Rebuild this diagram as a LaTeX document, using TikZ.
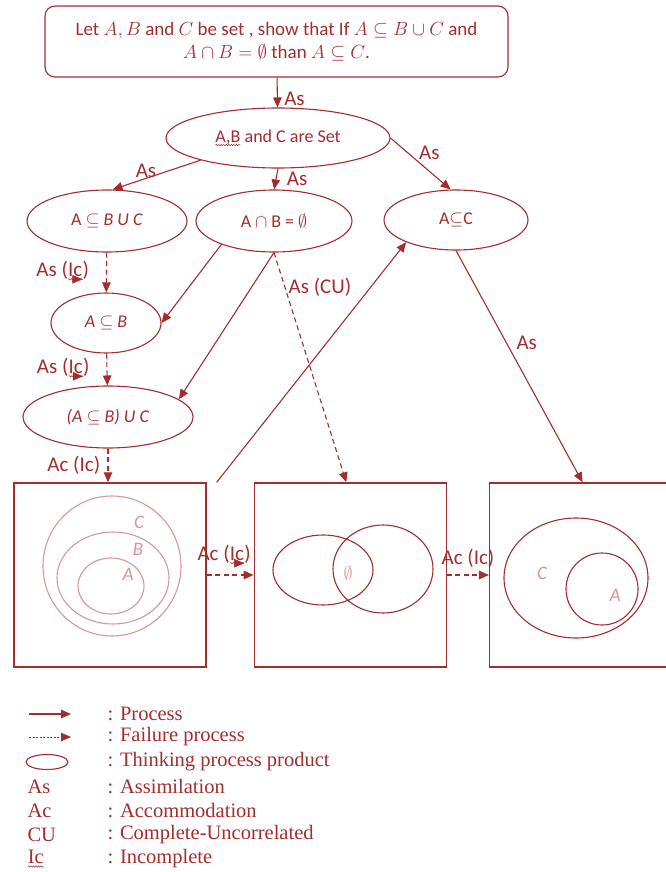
\RequirePackage{fix-cm}
\documentclass[tikz,border=0pt]{standalone}
\usepackage{fontspec}
\usepackage{amssymb}
\setmainfont{Carlito}
\newfontfamily\legendfont{Liberation Serif}
\usetikzlibrary{shapes.geometric, arrows.meta, positioning, calc, decorations.pathmorphing}
\definecolor{deepred}{RGB}{163,45,45}
\definecolor{palered}{RGB}{216,150,150}
\newcommand{\squig}[1]{\tikz[baseline=(sq.base)]{\node[shape=rectangle, draw=none, minimum width=0pt,
    minimum height=0pt, inner sep=0pt, outer sep=0pt] (sq) {#1};
    \draw[line width=0.5pt, decorate, decoration={snake, amplitude=0.7pt, segment length=2.5pt}]
    ([yshift=-2.5pt]sq.base west) -- ([yshift=-2.5pt]sq.base east);}}

\begin{document}
\begin{tikzpicture}[x=1pt, y=-1pt, color=deepred,
    thought/.style={draw, ellipse, line width=1.1pt, inner sep=0pt,
                    font=\fontsize{18}{20}\selectfont},
    proc/.style={draw, line width=1.1pt, -{Triangle[length=10pt, width=8.5pt]}},
    fail/.style={proc, dash pattern=on 5pt off 3.5pt},
    tag/.style={font=\fontsize{21}{23}\selectfont},
    frame/.style={draw, line width=1.3pt, minimum height=184pt, inner sep=0pt},
    setlbl/.style={text=palered, font=\fontsize{19}{20}\selectfont\itshape},
    legend/.style={anchor=west, font=\legendfont\fontsize{20.5}{22}\selectfont}
]
    \useasboundingbox (0,0) rectangle (666,872);

    \node[draw, line width=1.1pt, rounded corners=10pt, minimum width=463pt,
          minimum height=71pt, align=center, font=\fontsize{19}{22.5}\selectfont]
          (quest) at (276.5,41.5)
          {Let $A, B$ and $C$ be set , show that If $A \subseteq B \cup C$ and\\
           $A \cap B = \emptyset$ than $A \subseteq C$.};

    \node[thought, minimum width=224pt, minimum height=60pt] (sets) at (278,138) {\squig{A,B} and C are Set};
    \node[thought, minimum width=160pt, minimum height=62pt] (abuc) at (107,221) {A $\subseteq$ \textit{B U C}};
    \node[thought, minimum width=156pt, minimum height=62pt] (anb) at (274,221) {A $\cap$ B = $\emptyset$};
    \node[thought, minimum width=144pt, minimum height=60pt] (asc) at (456,220) {A$\subseteq$C};
    \node[thought, minimum width=110pt, minimum height=60pt] (asb) at (106,323) {\textit{A} $\subseteq$ \textit{B}};
    \node[thought, minimum width=170pt, minimum height=62pt] (asbuc) at (108,417) {\textit{(A $\subseteq$ B) U C}};

    \node[frame, minimum width=192pt] (venn1) at (110,575) {};
    \node[frame, minimum width=192pt, right=47pt of venn1] (venn2) {};
    \node[frame, minimum width=178pt, right=42pt of venn2] (venn3) {};

    \draw[proc] (quest) -- node[tag, right, pos=0.7, xshift=3pt] {As} (sets);
    \draw[proc] (sets.196) -- node[tag, above, pos=0.62, inner sep=0pt] {As} (abuc.80);
    \draw[proc] (sets.south) -- node[tag, right, xshift=7pt] {As} (anb.north);
    \draw[proc] (sets.east) -- node[tag, above right, pos=0.45, inner sep=1pt] {As} (asc.100);
    \draw[fail] (abuc) -- node[tag, left=14pt] {As (\squig{Ic})} (asb);
    \draw[fail] (asb) -- node[tag, left=14pt] {As (\squig{Ic})} (asbuc);
    \draw[fail] (asbuc.south) -- node[tag, left=4pt] {Ac (Ic)} (asbuc.south |- venn1.north);
    \draw[proc] (anb.204) -- (asb.east);
    \draw[proc] (anb.south) -- (asbuc.14);
    \draw[fail] (anb.south) -- node[tag, right, pos=0.15] {As (CU)} ($(venn2.north)+(-4,0)$);
    \coordinate (rise) at ($(venn1.north east)+(10,0)$);
    \draw[proc] (rise) -- (asc.204);
    \draw[proc] (asc.south) -- node[tag, right, pos=0.4, xshift=6pt] {As} ($(venn3.north)+(4,0)$);
    \draw[fail] (venn1) -- node[tag, above=4pt, xshift=-6pt] {Ac (\squig{Ic})} (venn2);
    \draw[fail] (venn2) -- node[tag, above=4pt] {Ac (Ic)} (venn3);

    \draw[palered, line width=1.1pt] (112,566) ellipse (69 and 70)
        (113,578) ellipse (56 and 46) (111,586) ellipse (33 and 28);
    \node[setlbl] (c1) at (139,522) {C};
    \node[setlbl] (b1) at (138,549) {B};
    \node[setlbl] (a1) at (128,574) {A};

    \draw[line width=1.1pt] (323,570) ellipse (50 and 35) (383,569) ellipse (50 and 44);
    \node[text=palered, font=\fontsize{18}{19}\selectfont] (nil) at (348,573) {$\emptyset$};

    \draw[line width=1.1pt] (576,578) ellipse (72 and 60) (602,589) ellipse (36 and 36);
    \node[setlbl] (c3) at (542,573) {C};
    \node[setlbl] (a3) at (615,595) {A};

    \coordinate (ka) at (29,714); \coordinate (kb) at (71,714);
    \coordinate (kc) at (29,737); \coordinate (kd) at (71,737);
    \draw[proc] (ka) -- (kb);
    \draw[line width=0.8pt, dash pattern=on 2pt off 1.5pt, -{Triangle[length=10pt, width=8.5pt]}] (kc) -- (kd);
    \draw[line width=1.1pt] (47,762) ellipse (21 and 7.5);
    \node[legend] (kas) at (24,787) {As};
    \node[legend] (kac) at (24,811) {Ac};
    \node[legend] (kcu) at (24,835) {CU};
    \node[legend] (kic) at (24,859) {\squig{Ic}};
    \node[legend] (tproc) at (104,714) {: Process};
    \node[legend] (tfail) at (104,737) {: Failure process};
    \node[legend] (tthink) at (104,762) {: Thinking process product};
    \node[legend] (tas) at (104,787) {: Assimilation};
    \node[legend] (tac) at (104,811) {: Accommodation};
    \node[legend] (tcu) at (104,835) {: Complete-Uncorrelated};
    \node[legend] (tic) at (104,859) {: Incomplete};
\end{tikzpicture}
\end{document}
